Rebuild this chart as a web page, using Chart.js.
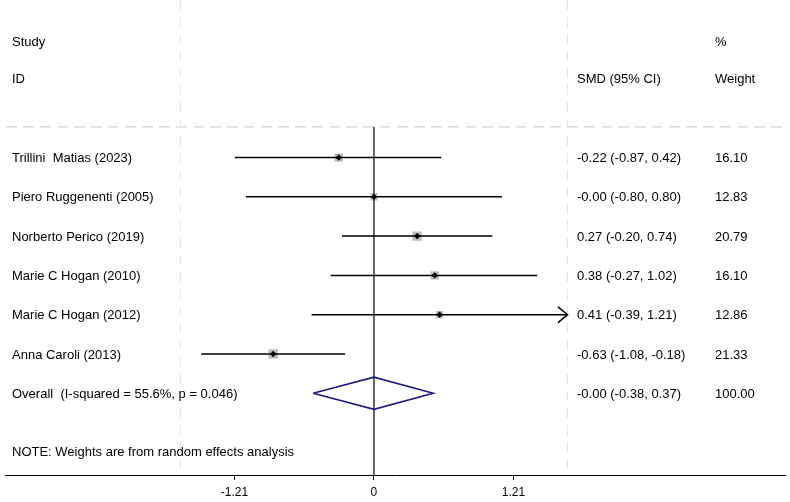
<!DOCTYPE html>
<html>
<head>
<meta charset="utf-8">
<script src="https://cdn.jsdelivr.net/npm/chart.js@4.4.1/dist/chart.umd.min.js"></script>
<style>
  html, body { margin: 0; padding: 0; background: #fff; }
  #wrap { width: 790px; height: 502px; }
</style>
</head>
<body>
<div id="wrap"><canvas id="forest"></canvas></div>
<script>
const studies = ["Trillini  Matias (2023)", "Piero Ruggenenti (2005)", "Norberto Perico (2019)",
  "Marie C Hogan (2010)", "Marie C Hogan (2012)", "Anna Caroli (2013)"];
const smd = [-0.22, -0.00, 0.27, 0.38, 0.41, -0.63];
const ciLow = [-0.87, -0.80, -0.20, -0.27, -0.39, -1.08];
const ciHigh = [0.42, 0.80, 0.74, 1.02, 1.21, -0.18];
const weights = [16.10, 12.83, 20.79, 16.10, 12.86, 21.33];
const ciText = ["-0.22 (-0.87, 0.42)", "-0.00 (-0.80, 0.80)", "0.27 (-0.20, 0.74)",
  "0.38 (-0.27, 1.02)", "0.41 (-0.39, 1.21)", "-0.63 (-1.08, -0.18)"];
const weightText = ["16.10", "12.83", "20.79", "16.10", "12.86", "21.33"];

const overallLabel = "Overall  (I-squared = 55.6%, p = 0.046)";
const overallSmd = -0.00;
const overallLow = -0.38;
const overallHigh = 0.37;
const overallCiText = "-0.00 (-0.38, 0.37)";
const overallWeightText = "100.00";
const noteText = "NOTE: Weights are from random effects analysis";

// stata puts the labels at these spots
const tickValues = [-0.872, 0, 0.872];
const tickLabels = ["-1.21", "0", "1.21"];
const clipAt = 1.21;

const xMin = -2.306, xMax = 2.569;
const yMin = -4.01, yMax = 8.08;
const rowOverall = studies.length;
const rowNote = 7.49;
const rowStudy = -2.96, rowId = -2.02, rowRule = -0.78;

const datasets = [];

// dashed guides
[-clipAt, clipAt].forEach(v => {
  datasets.push({
    type: 'line', order: 5, data: [{x: v, y: yMin}, {x: v, y: yMax}],
    borderColor: '#e3e3e3', borderWidth: 1, borderDash: [10, 7], pointRadius: 0
  });
});
datasets.push({
  type: 'line', order: 5, data: [{x: xMin - 0.1, y: rowRule}, {x: xMax + 0.1, y: rowRule}],
  borderColor: '#c8c8c8', borderWidth: 1, borderDash: [11, 6], pointRadius: 0
});

// weight boxes
datasets.push({
  type: 'scatter', order: 4,
  data: studies.map((s, i) => ({x: smd[i], y: i})),
  pointStyle: 'rect',
  pointRadius: weights.map(w => Math.sqrt(w) * 1.45),
  backgroundColor: '#bdbdbd', borderWidth: 0
});

// null line
datasets.push({
  type: 'line', order: 3, data: [{x: 0, y: rowRule}, {x: 0, y: yMax}],
  borderColor: '#000', borderWidth: 1.2, pointRadius: 0
});

// confidence intervals
studies.forEach((s, i) => {
  const hi = Math.min(ciHigh[i], clipAt);
  datasets.push({
    type: 'line', order: 2, data: [{x: ciLow[i], y: i}, {x: hi, y: i}],
    borderColor: '#000', borderWidth: 1.5, pointRadius: 0
  });
  if (ciHigh[i] >= clipAt) {
    datasets.push({
      type: 'line', order: 2,
      data: [{x: hi - 0.06, y: i - 0.2}, {x: hi, y: i}, {x: hi - 0.06, y: i + 0.2}],
      borderColor: '#000', borderWidth: 1.5, pointRadius: 0
    });
  }
});

// point estimates
datasets.push({
  type: 'scatter', order: 1,
  data: studies.map((s, i) => ({x: smd[i], y: i})),
  pointStyle: 'rectRot', pointRadius: 3.2,
  backgroundColor: '#000', borderWidth: 0
});

// overall diamond
const dh = 0.41;
datasets.push({
  type: 'line', order: 1,
  data: [{x: overallLow, y: rowOverall}, {x: overallSmd, y: rowOverall - dh},
         {x: overallHigh, y: rowOverall}, {x: overallSmd, y: rowOverall + dh},
         {x: overallLow, y: rowOverall}],
  borderColor: '#1c1c7e', borderWidth: 1.6, pointRadius: 0, fill: false
});

const textPlugin = {
  id: 'forestText',
  afterDatasetsDraw(chart) {
    const ctx = chart.ctx;
    const y = chart.scales.y;
    ctx.save();
    ctx.fillStyle = '#000';
    ctx.font = '13px "Liberation Sans", Arial, sans-serif';
    ctx.textBaseline = 'middle';
    ctx.textAlign = 'left';
    const put = (t, x, row) => ctx.fillText(t, x, y.getPixelForValue(row) + 1);
    put("Study", 12, rowStudy);
    put("ID", 12, rowId);
    put("%", 715, rowStudy);
    put("SMD (95% CI)", 577, rowId);
    put("Weight", 715, rowId);
    studies.forEach((s, i) => {
      put(s, 12, i);
      put(ciText[i], 577, i);
      put(weightText[i], 715, i);
    });
    put(overallLabel, 12, rowOverall);
    put(overallCiText, 577, rowOverall);
    put(overallWeightText, 715, rowOverall);
    put(noteText, 12, rowNote);
    ctx.restore();
  }
};

new Chart("forest", {
  data: { datasets: datasets },
  options: {
    responsive: true,
    maintainAspectRatio: false,
    animation: false,
    layout: { autoPadding: false, padding: { left: 5, right: 5, top: 0, bottom: -3 } },
    plugins: { legend: { display: false }, tooltip: { enabled: false } },
    scales: {
      x: {
        type: 'linear', min: xMin, max: xMax,
        afterBuildTicks: axis => { axis.ticks = tickValues.map(v => ({value: v})); },
        ticks: {
          autoSkip: false, maxRotation: 0, padding: 8, color: '#000',
          font: { family: '"Liberation Sans", Arial, sans-serif', size: 12, lineHeight: 0.75 },
          callback: (v, i) => tickLabels[i]
        },
        grid: { drawOnChartArea: false, drawTicks: true, tickLength: 5, color: '#000' },
        border: { display: true, color: '#000', width: 1 }
      },
      y: { type: 'linear', reverse: true, min: yMin, max: yMax, display: false }
    }
  },
  plugins: [textPlugin]
});
</script>
</body>
</html>
